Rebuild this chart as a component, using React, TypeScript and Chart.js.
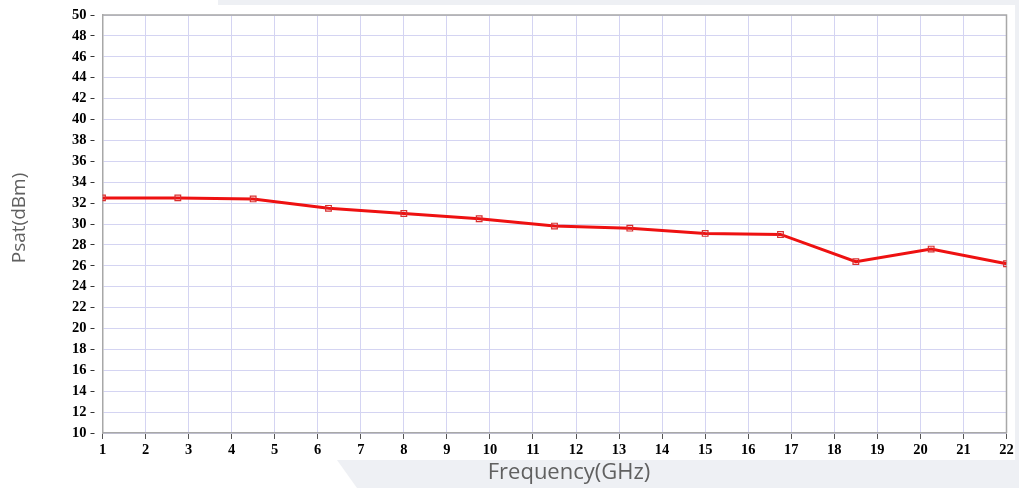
import React, { useEffect, useRef } from "react";
import { Chart, registerables } from "chart.js";

Chart.register(...registerables);

const frequencies = [1, 2.75, 4.5, 6.25, 8, 9.75, 11.5, 13.25, 15, 16.75, 18.5, 20.25, 22];
const psatValues = [32.5, 32.5, 32.4, 31.5, 31.0, 30.5, 29.8, 29.6, 29.1, 29.0, 26.4, 27.6, 26.2];
const xTitle = "Frequency(GHz)";
const yTitle = "Psat(dBm)";

const W = 1019;
const H = 488;

const decorPlugin = {
  id: "decor",
  beforeDraw(chart: any) {
    const ctx = chart.ctx;
    ctx.save();
    ctx.fillStyle = "#ffffff";
    ctx.fillRect(0, 0, W, H);
    ctx.fillStyle = "#eef0f4";
    ctx.fillRect(218, 0, W - 218, 5);
    ctx.fillRect(1015, 0, 4, H);
    ctx.beginPath();
    ctx.moveTo(337, 460);
    ctx.lineTo(W, 460);
    ctx.lineTo(W, H);
    ctx.lineTo(357, H);
    ctx.closePath();
    ctx.fill();
    ctx.restore();
  },
  beforeDatasetsDraw(chart: any) {
    const { ctx, chartArea } = chart;
    ctx.save();
    ctx.strokeStyle = "#a8a8a8";
    ctx.lineWidth = 1.5;
    ctx.beginPath();
    ctx.moveTo(chartArea.left, chartArea.top);
    ctx.lineTo(chartArea.right, chartArea.top);
    ctx.lineTo(chartArea.right, chartArea.bottom);
    ctx.stroke();
    ctx.restore();
  },
  afterDraw(chart: any) {
    const ctx = chart.ctx;
    ctx.save();
    ctx.fillStyle = "#606060";
    ctx.textAlign = "center";
    ctx.textBaseline = "middle";
    ctx.font = "22px 'Open Sans'";
    ctx.fillText(xTitle, 569, 473);
    ctx.translate(20, 218);
    ctx.rotate(-Math.PI / 2);
    ctx.font = "19px 'Open Sans'";
    ctx.fillText(yTitle, 0, 0);
    ctx.restore();
  },
};

const tickFont = { family: "'Liberation Serif'", size: 14.5, weight: "bold" as const };

export default function App() {
  const ref = useRef<HTMLCanvasElement>(null);
  useEffect(() => {
    document.body.style.margin = "0";
    const chart = new Chart(ref.current!, {
      type: "line",
      data: {
        datasets: [
          {
            data: frequencies.map((f, i) => ({ x: f, y: psatValues[i] })),
            borderColor: "#ee1111",
            borderWidth: 3,
            pointStyle: "rect",
            pointRadius: 4,
            pointBorderColor: "#d83030",
            pointBorderWidth: 1.2,
            pointBackgroundColor: "rgba(0,0,0,0)",
            tension: 0,
          },
        ],
      },
      options: {
        responsive: false,
        animation: false,
        layout: { padding: { left: 0, top: 15, right: 12.5, bottom: 0 } },
        plugins: { legend: { display: false }, tooltip: { enabled: false } },
        scales: {
          x: {
            type: "linear",
            min: 1,
            max: 22,
            afterFit: (s: any) => {
              s.height = 55;
            },
            ticks: {
              stepSize: 1,
              color: "#000",
              padding: 3,
              maxRotation: 0,
              font: tickFont,
            },
            grid: {
              color: "#d4d4f2",
              lineWidth: 1,
              tickColor: "#555",
              tickLength: 6,
            },
            border: { color: "#a8a8a8", width: 1.5 },
          },
          y: {
            min: 10,
            max: 50,
            afterFit: (s: any) => {
              s.width = 102.5;
            },
            ticks: {
              stepSize: 2,
              color: "#000",
              padding: 4,
              font: tickFont,
            },
            grid: {
              color: "#d4d4f2",
              lineWidth: 1,
              tickColor: "#333",
              tickLength: 12,
              tickBorderDash: [4, 100],
            },
            border: { color: "#a8a8a8", width: 1.5 },
          },
        },
      },
      plugins: [decorPlugin],
    });
    return () => chart.destroy();
  }, []);
  return (
    <div style={{ position: "absolute", left: 0, top: 0, width: W, height: H }}>
      <canvas ref={ref} width={W} height={H} style={{ width: W, height: H }} />
    </div>
  );
}
